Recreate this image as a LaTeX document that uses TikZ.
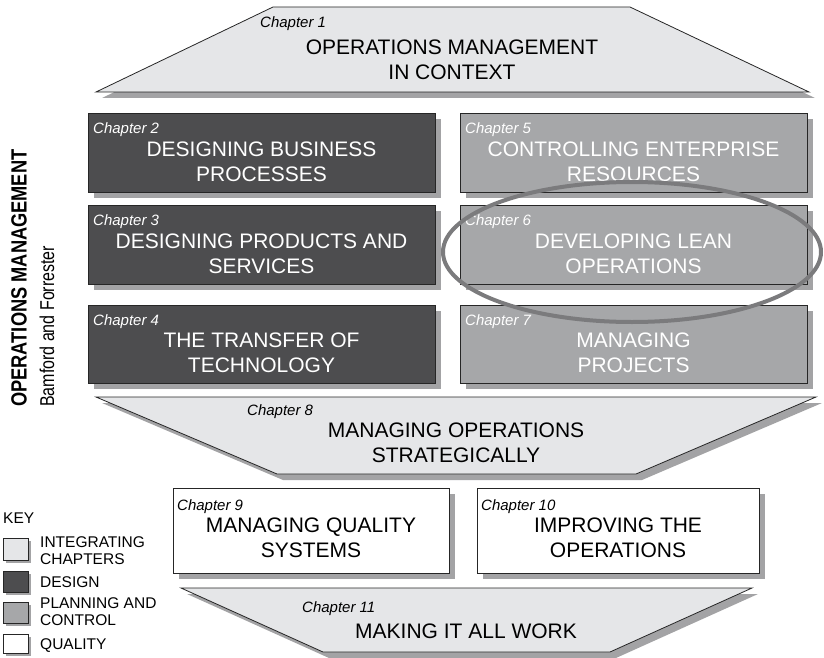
\documentclass[tikz,border=0pt]{standalone}
\usepackage{fontspec}
\setmainfont{Liberation Sans}
\usetikzlibrary{shadows}
\definecolor{integr}{HTML}{E5E6E8}
\definecolor{design}{HTML}{4D4D4F}
\definecolor{planning}{HTML}{A6A7A9}
\definecolor{shade}{HTML}{A3A3A5}
\definecolor{ringgray}{HTML}{7B7B7D}
\tikzset{
  chapshape/.style={draw=black!85, line width=0.8pt,
    drop shadow={shadow xshift=6pt, shadow yshift=-6pt, fill=shade, opacity=1}},
  keyshape/.style={draw=black!85, line width=0.7pt,
    drop shadow={shadow xshift=3pt, shadow yshift=-3pt, fill=shade, opacity=1}},
  chaplabel/.style={font=\fontsize{15}{18}\selectfont\itshape, anchor=base west, inner sep=0pt},
  heading/.style={font=\fontsize{21}{25}\selectfont, align=center, inner sep=0pt},
  keytext/.style={font=\fontsize{15.5}{17}\selectfont, align=left, anchor=west, inner sep=0pt},
  sidetext/.style={rotate=90, anchor=west, inner sep=0pt},
}
\begin{document}
\begin{tikzpicture}[x=1pt,y=-1pt]
  \useasboundingbox (0,0) rectangle (824,658);

  \draw[chapshape, fill=integr] (273,7) -- (630,7) -- (809,92) -- (96,92) -- cycle;
  \node[chaplabel] (c1lab) at (260,27.5) {Chapter 1};
  \node[heading] (c1txt) at (452,60) {OPERATIONS MANAGEMENT\\IN CONTEXT};

  \draw[chapshape, fill=design] (88,113) rectangle (435,192);
  \node[chaplabel, white] (c2lab) at (93,133) {Chapter 2};
  \node[heading, white] (c2txt) at (261.5,162) {DESIGNING BUSINESS\\PROCESSES};

  \draw[chapshape, fill=design] (88,205) rectangle (435,284);
  \node[chaplabel, white] (c3lab) at (93,225) {Chapter 3};
  \node[heading, white] (c3txt) at (261.5,254) {DESIGNING PRODUCTS AND\\SERVICES};

  \draw[chapshape, fill=design] (88,305) rectangle (435,383);
  \node[chaplabel, white] (c4lab) at (93,325) {Chapter 4};
  \node[heading, white] (c4txt) at (261.5,353) {THE TRANSFER OF\\TECHNOLOGY};

  \draw[chapshape, fill=planning] (460,113) rectangle (807,192);
  \node[chaplabel, white] (c5lab) at (465,133) {Chapter 5};
  \node[heading, white] (c5txt) at (633.5,162) {CONTROLLING ENTERPRISE\\RESOURCES};
  \begin{scope}
    \clip (461,114) rectangle (806,191);
    \fill[planning] (632,252) ellipse [x radius=189pt, y radius=70pt];
  \end{scope}

  \draw[chapshape, fill=planning] (460,205) rectangle (807,284);
  \node[chaplabel, white] (c6lab) at (465,225) {Chapter 6};
  \node[heading, white] (c6txt) at (633.5,254) {DEVELOPING LEAN\\OPERATIONS};

  \draw[chapshape, fill=planning] (460,305) rectangle (807,383);
  \node[chaplabel, white] (c7lab) at (465,325) {Chapter 7};
  \node[heading, white] (c7txt) at (633.5,353) {MANAGING\\PROJECTS};

  \draw[chapshape, fill=integr] (96,397) -- (816,397) -- (636,474) -- (277,474) -- cycle;
  \node[chaplabel] (c8lab) at (247,415) {Chapter 8};
  \node[heading] (c8txt) at (456,443) {MANAGING OPERATIONS\\STRATEGICALLY};

  \draw[chapshape, fill=white] (173,488) rectangle (449,573);
  \node[chaplabel] (c9lab) at (177,510) {Chapter 9};
  \node[heading] (c9txt) at (311,538) {MANAGING QUALITY\\SYSTEMS};

  \draw[chapshape, fill=white] (477,488) rectangle (759,573);
  \node[chaplabel] (c10lab) at (481,510) {Chapter 10};
  \node[heading] (c10txt) at (618,538) {IMPROVING THE\\OPERATIONS};

  \draw[chapshape, fill=integr] (181,588) -- (752,588) -- (610,652) -- (323,652) -- cycle;
  \node[chaplabel] (c11lab) at (302,612) {Chapter 11};
  \node[heading] (c11txt) at (466,631) {MAKING IT ALL WORK};

  \draw[ringgray, line width=4pt] (632,252) ellipse [x radius=189pt, y radius=70pt];

  \node[sidetext, font=\fontsize{22}{26}\selectfont\bfseries] (book) at (19,407)
    {\scalebox{0.83}[1]{OPERATIONS MANAGEMENT}};
  \node[sidetext, font=\fontsize{20}{24}\selectfont] (authors) at (47,407)
    {\scalebox{0.8}[1]{Bamford and Forrester}};

  \node[keytext] (key) at (3,518) {KEY};
  \draw[keyshape, fill=integr] (3,538) rectangle (28,560);
  \node[keytext] (k1) at (40,550.5) {INTEGRATING\\CHAPTERS};
  \draw[keyshape, fill=design] (3,571) rectangle (28,592);
  \node[keytext] (k2) at (40,582) {DESIGN};
  \draw[keyshape, fill=planning] (3,602) rectangle (28,623);
  \node[keytext] (k3) at (40,612) {PLANNING AND\\CONTROL};
  \draw[keyshape, fill=white] (3,634) rectangle (28,653);
  \node[keytext] (k4) at (40,646) {QUALITY};
\end{tikzpicture}
\end{document}
